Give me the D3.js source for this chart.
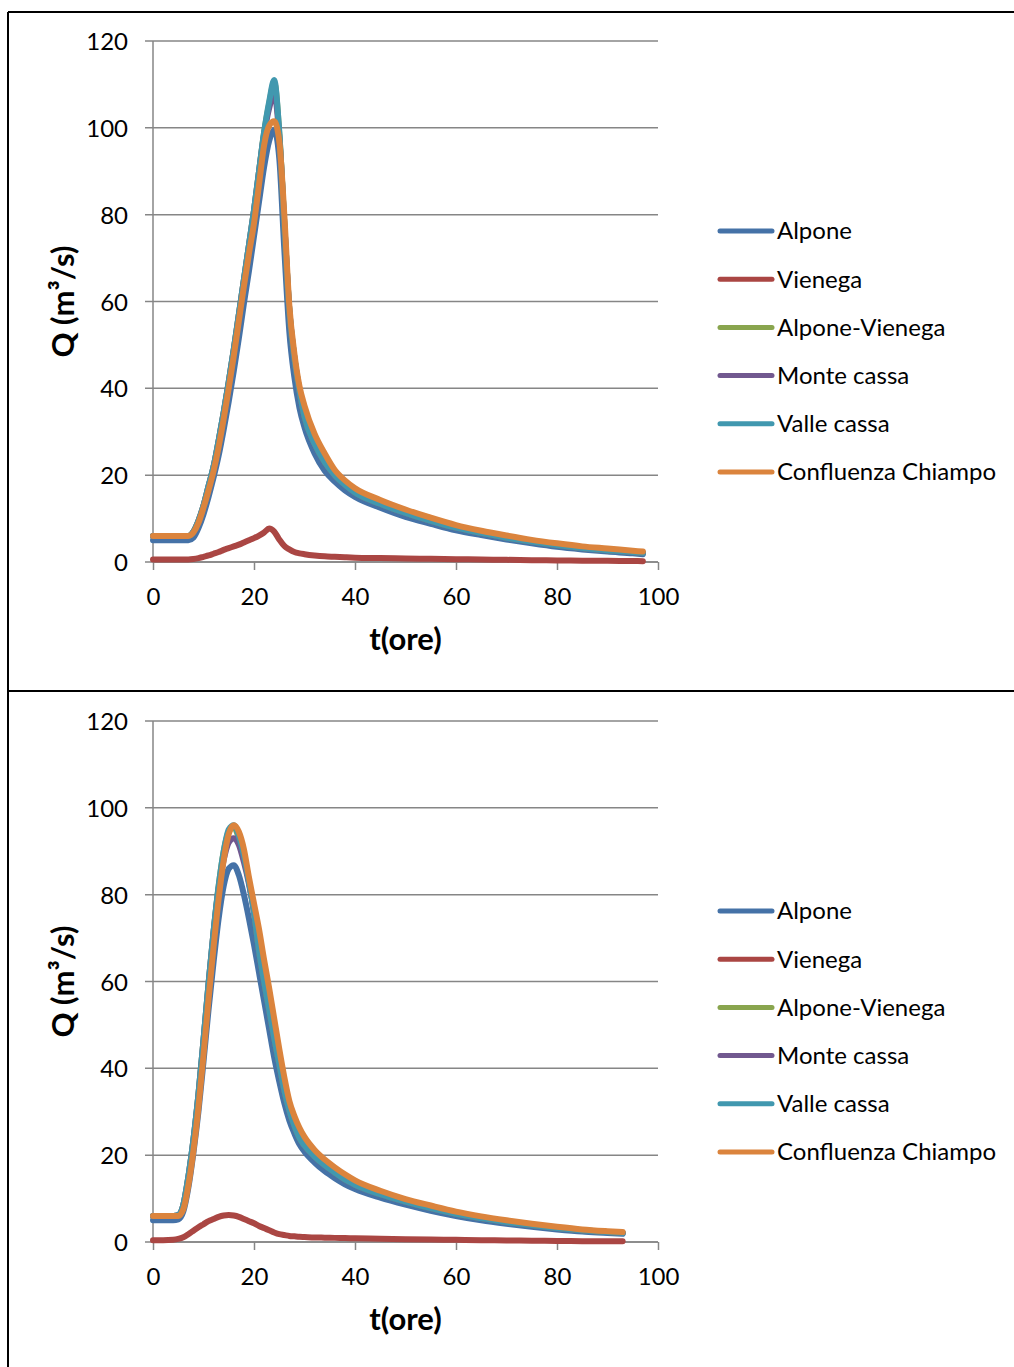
<!DOCTYPE html>
<html>
<head>
<meta charset="utf-8">
<script src="https://cdn.jsdelivr.net/npm/d3@7"></script>
<style>
  html, body { margin: 0; padding: 0; background: #fff; }
  svg { display: block; }
  text { font-family: Lato, "Open Sans", sans-serif; fill: #000; }
</style>
</head>
<body>
<svg id="chart" width="1014" height="1367"></svg>
<script>
// Series names and colours (shared by both hydrographs)
const seriesNames = ["Alpone", "Vienega", "Alpone-Vienega", "Monte cassa", "Valle cassa", "Confluenza Chiampo"];
const seriesColors = ["#4572A7", "#AA4643", "#89A54E", "#71588F", "#4198AF", "#DB843D"];

const xTicks = [0, 20, 40, 60, 80, 100];
const yTicks = [0, 20, 40, 60, 80, 100, 120];

// ---- Event 1 (upper chart): time in hours, discharge in m3/s ----
const tTop = [0,2,4,6,7,8,9,10,11,12,13,14,15,16,17,18,19,20,21,22,23,24,25,26,27,28,29,30,32,34,36,38,40,45,50,55,60,65,70,75,80,85,90,95,97];
const alponeTop = [5,5,5,5,5,5.6,7.8,11,15,19.5,24.5,30.5,37,44,51.5,59.5,67,75,83,91,97,99.5,93,72,53,42.5,35.5,31,25,21,18.5,16.5,15,12.5,10.4,8.8,7.3,6.2,5.2,4.3,3.5,2.9,2.4,2,1.8];
const vienegaTop = [0.6,0.6,0.6,0.6,0.6,0.7,0.9,1.2,1.5,1.9,2.3,2.8,3.2,3.6,4.0,4.5,5.0,5.5,6.1,6.8,7.7,7.0,5.2,3.7,2.9,2.3,2.0,1.8,1.5,1.3,1.2,1.1,1.0,0.9,0.8,0.72,0.65,0.58,0.5,0.42,0.35,0.3,0.26,0.22,0.2];
const alponeVienegaTop = [6,6,6,6,6,7,9.5,13,17.5,22,28,34.5,41.5,49,57,65,73,81,90,99,105.5,110.5,99,78,58,47,39.5,33.5,27.2,23,20,17.8,16,13.4,11.3,9.5,7.9,6.7,5.6,4.7,3.9,3.2,2.7,2.3,2.1];
const monteCassaTop = [6,6,6,6,6,7,9.5,13,17.5,22,28,34.5,41.5,49,57,65,73,81,90,98.5,104.5,108,98,78,58,47,39.5,33.5,27.2,23,20,17.8,16,13.4,11.3,9.5,7.9,6.7,5.6,4.7,3.9,3.2,2.7,2.3,2.1];
const valleCassaTop = [6,6,6,6,6,7,9.5,13,17.5,22,28,34.5,41.5,49,57,65,73,81,90,99,106,111,99,78,58,47,39.5,33.5,27.2,23,20,17.8,16,13.4,11.3,9.5,7.9,6.7,5.6,4.7,3.9,3.2,2.7,2.3,2.1];
const confluenzaTop = [6,6,6,6,6,6.8,9,12.5,16.5,21,26.5,33,40,47.5,55.5,63.5,71,78,87,96,100.5,101.5,97,80,59,48,40.5,36,29.5,25,21.2,18.8,17,14.3,12.1,10.2,8.5,7.2,6.1,5.1,4.3,3.6,3.1,2.6,2.4];

// ---- Event 2 (lower chart) ----
const tBottom = [0,2,4,5,6,7,8,9,10,11,12,13,14,15,16,17,18,19,20,21,22,23,24,25,26,27,28,29,30,32,34,36,38,40,45,50,55,60,65,70,75,80,85,90,93];
const alponeBottom = [5,5,5,5.2,7,12.5,20.5,30,41.5,53.5,64.5,74.5,82,86,86.8,84.5,80,74.5,68.5,62,55.5,49,42.5,37,32,28,25,22.5,20.8,18.3,16.3,14.7,13.3,12.2,10.2,8.6,7.2,6,5,4.2,3.5,2.9,2.4,2.1,1.9];
const vienegaBottom = [0.4,0.4,0.5,0.7,1.1,1.8,2.6,3.4,4.1,4.8,5.3,5.8,6.1,6.2,6.1,5.8,5.3,4.8,4.3,3.7,3.2,2.7,2.2,1.8,1.6,1.4,1.3,1.2,1.15,1.05,1,0.95,0.9,0.85,0.75,0.65,0.55,0.5,0.42,0.36,0.3,0.25,0.2,0.17,0.15];
const alponeVienegaBottom = [6,6,6,6.2,8.5,15,23.5,34,46.5,59.5,71.5,82,90,94.5,95.5,93,89,83,76,67,60,53.5,47,41,35,30.3,26.8,24,22.2,19.7,17.7,16,14.4,13.2,11,9.3,7.8,6.5,5.5,4.6,3.9,3.2,2.7,2.3,2.1];
const monteCassaBottom = [6,6,6,6.2,8.5,15,23.5,34,46.5,59.5,71.5,81.5,88,92,93,91.5,87.5,82.5,76,67,60,53.5,47,41,35,30.3,26.8,24,22.2,19.7,17.7,16,14.4,13.2,11,9.3,7.8,6.5,5.5,4.6,3.9,3.2,2.7,2.3,2.1];
const valleCassaBottom = [6,6,6,6.2,8.5,15,23.5,34,46.5,59.5,71.5,82,90,95,96,93.5,89,83,76,67,60,53.5,47,41,35,30.3,26.8,24,22.2,19.7,17.7,16,14.4,13.2,11,9.3,7.8,6.5,5.5,4.6,3.9,3.2,2.7,2.3,2.1];
const confluenzaBottom = [6,6,6,6,7.5,13,21,31,43,56,68,79,88,94,96,94.5,90.5,84,78,72,65,58.5,51.5,44.5,38,32.5,29,26.3,24.2,21.2,19,17.2,15.6,14.2,11.8,9.9,8.4,7,5.9,5,4.2,3.5,2.9,2.5,2.3];

const charts = [
  { top: 0,   t: tTop,    series: [alponeTop, vienegaTop, alponeVienegaTop, monteCassaTop, valleCassaTop, confluenzaTop] },
  { top: 680, t: tBottom, series: [alponeBottom, vienegaBottom, alponeVienegaBottom, monteCassaBottom, valleCassaBottom, confluenzaBottom] }
];

const svg = d3.select("#chart");

// Frame lines around the two panels
const frame = svg.append("g").attr("stroke", "#000").attr("stroke-width", 2);
frame.append("line").attr("x1", 8).attr("x2", 8).attr("y1", 12).attr("y2", 1367);
frame.append("line").attr("x1", 8).attr("x2", 1014).attr("y1", 12).attr("y2", 12);
frame.append("line").attr("x1", 8).attr("x2", 1014).attr("y1", 691).attr("y2", 691);

const gridColor = "#868686";
const labelFont = 24;

charts.forEach(cfg => {
  const g = svg.append("g").attr("transform", `translate(0,${cfg.top})`);
  const x = d3.scaleLinear().domain([0, 100]).range([153, 658]);
  const y = d3.scaleLinear().domain([0, 120]).range([562, 41]);

  // Horizontal gridlines with the short tick stubs to the left of the axis
  g.append("g")
    .selectAll("line")
    .data(yTicks)
    .join("line")
    .attr("x1", 145).attr("x2", 658)
    .attr("y1", d => y(d)).attr("y2", d => y(d))
    .attr("stroke", gridColor).attr("stroke-width", 1.5);

  // Y axis labels
  const yAxis = d3.axisLeft(y).tickValues(yTicks).tickSize(0).tickPadding(0).tickFormat(d3.format("d"));
  const ya = g.append("g").attr("transform", "translate(128,0)").call(yAxis);
  ya.select(".domain").remove();
  ya.selectAll("text").attr("font-size", labelFont).attr("font-family", "Lato, sans-serif").attr("fill", "#000").attr("dy", "0.36em");

  // Vertical axis line
  g.append("line").attr("x1", x(0)).attr("x2", x(0)).attr("y1", y(120)).attr("y2", y(0))
    .attr("stroke", gridColor).attr("stroke-width", 1.5);

  // X axis with downward ticks
  const xAxis = d3.axisBottom(x).tickValues(xTicks).tickSize(8).tickPadding(18).tickFormat(d3.format("d"));
  const xa = g.append("g").attr("transform", `translate(0,${y(0)})`).call(xAxis);
  xa.select(".domain").attr("stroke", gridColor).attr("stroke-width", 1.5).attr("d", `M${x(0)},0H${x(100)}`);
  xa.selectAll(".tick line").attr("stroke", gridColor).attr("stroke-width", 1.5);
  xa.selectAll("text").attr("font-size", labelFont).attr("font-family", "Lato, sans-serif").attr("fill", "#000");

  // Axis titles
  g.append("text")
    .attr("transform", `translate(74,${(y(0) + y(120)) / 2}) rotate(-90)`)
    .attr("text-anchor", "middle")
    .attr("font-size", 31).attr("font-weight", "bold")
    .text("Q (m³/s)");
  g.append("text")
    .attr("x", (x(0) + x(100)) / 2).attr("y", 650)
    .attr("text-anchor", "middle")
    .attr("font-size", 31).attr("font-weight", "bold")
    .text("t(ore)");

  // Hydrograph lines
  const line = d3.line()
    .x((d, i) => x(cfg.t[i]))
    .y(d => y(d))
    .curve(d3.curveMonotoneX);
  g.append("g")
    .selectAll("path")
    .data(cfg.series)
    .join("path")
    .attr("d", line)
    .attr("fill", "none")
    .attr("stroke", (d, i) => seriesColors[i])
    .attr("stroke-width", 6)
    .attr("stroke-linejoin", "round")
    .attr("stroke-linecap", "round");

  // Legend
  const legend = g.append("g")
    .selectAll("g")
    .data(seriesNames)
    .join("g")
    .attr("transform", (d, i) => `translate(720,${231 + i * 48.2})`);
  legend.append("line")
    .attr("x1", 0).attr("x2", 52)
    .attr("stroke", (d, i) => seriesColors[i])
    .attr("stroke-width", 5).attr("stroke-linecap", "round");
  legend.append("text")
    .attr("x", 57).attr("dy", "0.35em")
    .attr("font-size", labelFont)
    .text(d => d);
});
</script>
</body>
</html>
